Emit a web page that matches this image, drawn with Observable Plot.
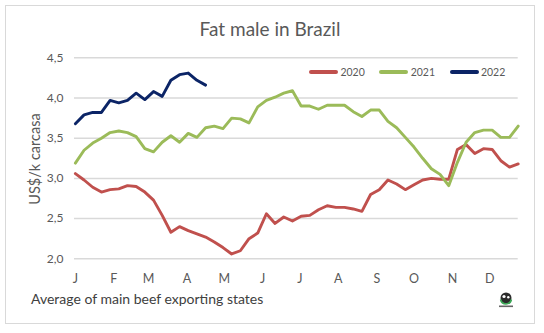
<!DOCTYPE html>
<html>
<head>
<meta charset="utf-8">
<script src="https://cdn.jsdelivr.net/npm/d3@7"></script>
<script src="https://cdn.jsdelivr.net/npm/@observablehq/plot@0.6"></script>
<style>
  body { margin: 0; background: #fff; font-family: Lato, "Open Sans", sans-serif; }
  #wrap { position: relative; width: 544px; height: 333px; overflow: hidden; background: #fff; }
  #frame { position: absolute; left: 5px; top: 5px; width: 528px; height: 317px; border: 1px solid #d9d9d9; box-sizing: content-box; }
  #title { position: absolute; left: 0; width: 540px; top: 19px; text-align: center; font-size: 19px; line-height: 1; color: #595959; white-space: nowrap; }
  #caption { position: absolute; left: 31px; top: 291.5px; font-size: 14px; line-height: 1; color: #404040; white-space: nowrap; }
  #ylabel { position: absolute; left: 35px; top: 159px; transform: translate(-50%, -50%) rotate(-90deg); font-size: 14.5px; line-height: 1; color: #595959; white-space: nowrap; }
  #legend { position: absolute; left: 309px; top: 66px; display: flex; gap: 14.5px; align-items: center; font-size: 10.5px; color: #595959; }
  #legend .item { display: flex; align-items: center; gap: 2.4px; }
  #legend .sw { display: inline-block; width: 29px; height: 3.5px; border-radius: 2px; }
  #chart { position: absolute; left: 0; top: 0; }
  #logo { position: absolute; left: 496px; top: 290px; }
</style>
</head>
<body>
<div id="wrap">
  <div id="frame"></div>
  <div id="chart"></div>
  <div id="title"></div>
  <div id="ylabel"></div>
  <div id="legend"></div>
  <div id="caption"></div>
  <svg id="logo" width="20" height="20" viewBox="0 0 20 20">
    <circle cx="10" cy="8" r="5.5" fill="#2b2b2b"/>
    <path d="M4.6 9.5 A5.5 5.5 0 0 0 15.4 9.5" fill="none" stroke="#3aa655" stroke-width="1.6"/>
    <circle cx="8" cy="6.5" r="1.6" fill="#fff"/>
    <circle cx="12.3" cy="7.2" r="1.2" fill="#fff"/>
    <rect x="3" y="15.5" width="14" height="1.6" fill="#666"/>
  </svg>
</div>
<script>
const titleText = "Fat male in Brazil";
const captionText = "Average of main beef exporting states";
const yLabel = "US$/k carcasa";
const years = ["2020", "2021", "2022"];
const colors = ["#C0504D", "#9BBB59", "#0B2466"];
const values2020 = [3.06, 2.98, 2.89, 2.83, 2.86, 2.87, 2.91, 2.90, 2.83, 2.73,
  2.54, 2.33, 2.40, 2.35, 2.31, 2.27, 2.21, 2.14, 2.06, 2.10,
  2.25, 2.32, 2.56, 2.44, 2.52, 2.47, 2.53, 2.54, 2.61, 2.66,
  2.64, 2.64, 2.62, 2.59, 2.80, 2.86, 2.98, 2.93, 2.86, 2.92,
  2.98, 3.00, 2.99, 2.99, 3.36, 3.42, 3.31, 3.37, 3.36, 3.22,
  3.14, 3.18];
const values2021 = [3.19, 3.35, 3.44, 3.50, 3.57, 3.59, 3.57, 3.52, 3.37, 3.33,
  3.45, 3.53, 3.45, 3.56, 3.51, 3.63, 3.65, 3.62, 3.75, 3.74,
  3.69, 3.89, 3.97, 4.01, 4.06, 4.09, 3.90, 3.90, 3.86, 3.91,
  3.91, 3.91, 3.83, 3.77, 3.85, 3.85, 3.71, 3.63, 3.51, 3.39,
  3.25, 3.12, 3.05, 2.91, 3.20, 3.45, 3.57, 3.60, 3.60, 3.51,
  3.51, 3.65];
const values2022 = [3.68, 3.79, 3.82, 3.82, 3.97, 3.94, 3.97, 4.06, 3.98, 4.08,
  4.02, 4.22, 4.29, 4.31, 4.22, 4.16];
const monthLabels = ["J", "F", "M", "A", "M", "J", "J", "A", "S", "O", "N", "D"];
const monthStartDays = [0, 31, 59, 90, 120, 151, 181, 212, 243, 273, 304, 334];
const yTicks = [2.0, 2.5, 3.0, 3.5, 4.0, 4.5];

const series = [values2020, values2021, values2022];
const data = years.flatMap((yr, k) => series[k].map((v, i) => ({year: yr, day: i * 7, value: v})));

document.getElementById("title").textContent = titleText;
document.getElementById("caption").textContent = captionText;
document.getElementById("ylabel").textContent = yLabel;
const legend = document.getElementById("legend");
years.forEach((yr, k) => {
  const item = document.createElement("div");
  item.className = "item";
  const sw = document.createElement("span");
  sw.className = "sw";
  sw.style.background = colors[k];
  const tx = document.createElement("span");
  tx.textContent = yr;
  item.appendChild(sw);
  item.appendChild(tx);
  legend.appendChild(item);
});

const fmt = d => d.toFixed(1).replace(".", ",");

const chart = Plot.plot({
  width: 544,
  height: 333,
  marginLeft: 74,
  marginRight: 26.3,
  marginTop: 57.3,
  marginBottom: 74.7,
  style: {fontFamily: "Lato, 'Open Sans', sans-serif", background: "transparent", color: "#595959"},
  x: {domain: [-0.7, 357]},
  y: {domain: [2.0, 4.5]},
  color: {domain: years, range: colors},
  marks: [
    Plot.ruleY(yTicks, {stroke: "#d9d9d9", strokeWidth: 1.5}),
    Plot.axisY(yTicks, {tickFormat: fmt, tickSize: 0, tickPadding: 11, fontSize: 12, fill: "#595959", label: null}),
    Plot.axisX(monthStartDays, {tickFormat: d => monthLabels[monthStartDays.indexOf(d)], tickSize: 0, tickPadding: 15, fontSize: 12.5, fill: "#595959", label: null}),
    Plot.line(data, {x: "day", y: "value", z: "year", stroke: "year", strokeWidth: 2.9, strokeLinejoin: "round", strokeLinecap: "round"})
  ]
});
document.getElementById("chart").appendChild(chart);
</script>
</body>
</html>
